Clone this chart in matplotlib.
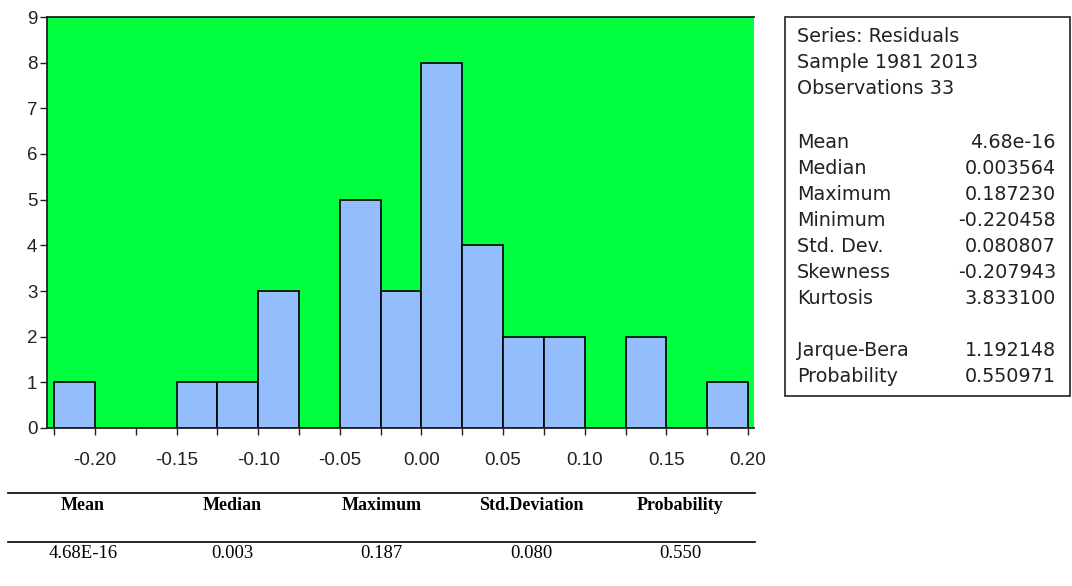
import numpy as np
import matplotlib
matplotlib.use("Agg")
import matplotlib.pyplot as plt
from matplotlib.patches import Rectangle

# histogram of residuals (bin width 0.025)
bin_left = np.arange(-0.225, 0.2, 0.025)
counts = [1, 0, 0, 1, 1, 3, 0, 5, 3, 8, 4, 2, 2, 0, 2, 0, 1]

stats_head = ["Series: Residuals", "Sample 1981 2013", "Observations 33"]
stats_names = ["Mean", "Median", "Maximum", "Minimum", "Std. Dev.",
               "Skewness", "Kurtosis", "", "Jarque-Bera", "Probability"]
stats_vals = ["4.68e-16", "0.003564", "0.187230", "-0.220458", "0.080807",
              "-0.207943", "3.833100", "", "1.192148", "0.550971"]

tbl_cols = ["Mean", "Median", "Maximum", "Std.Deviation", "Probability"]
tbl_vals = ["4.68E-16", "0.003", "0.187", "0.080", "0.550"]

W, H = 1072, 586
plt.rcParams['font.family'] = ['Liberation Sans', 'DejaVu Sans']
fig = plt.figure(figsize=(W / 100, H / 100), dpi=100)

ax = fig.add_axes([47 / W, 1 - 428 / H, (754 - 47) / W, (428 - 17) / H])
ax.set_facecolor("#00FF3F")
ax.bar(bin_left, counts, width=0.025, align="edge", color="#94BDFE",
       edgecolor="black", linewidth=1.2, zorder=2)
ax.set_xlim(-0.2294, 0.2037)
ax.set_ylim(0, 9)
ax.set_xticks(np.round(np.arange(-0.225, 0.201, 0.025), 3), minor=True)
ax.set_xticks([-0.2, -0.15, -0.1, -0.05, 0.0, 0.05, 0.1, 0.15, 0.2])
ax.set_xticklabels(["-0.20", "-0.15", "-0.10", "-0.05", "0.00",
                    "0.05", "0.10", "0.15", "0.20"])
ax.set_yticks(range(10))
ax.tick_params(axis="both", which="both", direction="out", length=5,
               width=1, labelsize=13.5, colors="#222222")
ax.tick_params(axis="x", pad=12)
ax.tick_params(axis="y", pad=2)
ax.spines["right"].set_visible(False)
for s in ["left", "top", "bottom"]:
    ax.spines[s].set_linewidth(1.3)
    ax.spines[s].set_color("#222222")

# statistics box on the right
fig.patches.append(Rectangle((785 / W, 1 - 396 / H), (1070 - 785) / W,
                             (396 - 17) / H, transform=fig.transFigure,
                             facecolor="white", edgecolor="#333333",
                             linewidth=1.3))
box_font = dict(fontsize=13.8, color="#222222", va="center",
                family="DejaVu Sans")
y = 37
for line in stats_head:
    fig.text(797 / W, 1 - y / H, line, ha="left", **box_font)
    y += 26
y += 27
for name, val in zip(stats_names, stats_vals):
    if name:
        fig.text(797 / W, 1 - y / H, name, ha="left", **box_font)
        fig.text(1056 / W, 1 - y / H, val, ha="right", **box_font)
    y += 26.1

# summary table below the histogram
for yy in [493, 542]:
    fig.add_artist(plt.Line2D([8 / W, 755 / W], [1 - yy / H, 1 - yy / H],
                              color="black", linewidth=1.2))
for i, (c, v) in enumerate(zip(tbl_cols, tbl_vals)):
    xc = (8 + 149.4 * (i + 0.5)) / W
    fig.text(xc, 1 - 506 / H, c, fontsize=13, fontweight="bold",
             family="Liberation Serif", ha="center", va="center")
    fig.text(xc, 1 - 554 / H, v, fontsize=13.5, family="Liberation Serif",
             ha="center", va="center")

fig.savefig("out.png", dpi=100)
